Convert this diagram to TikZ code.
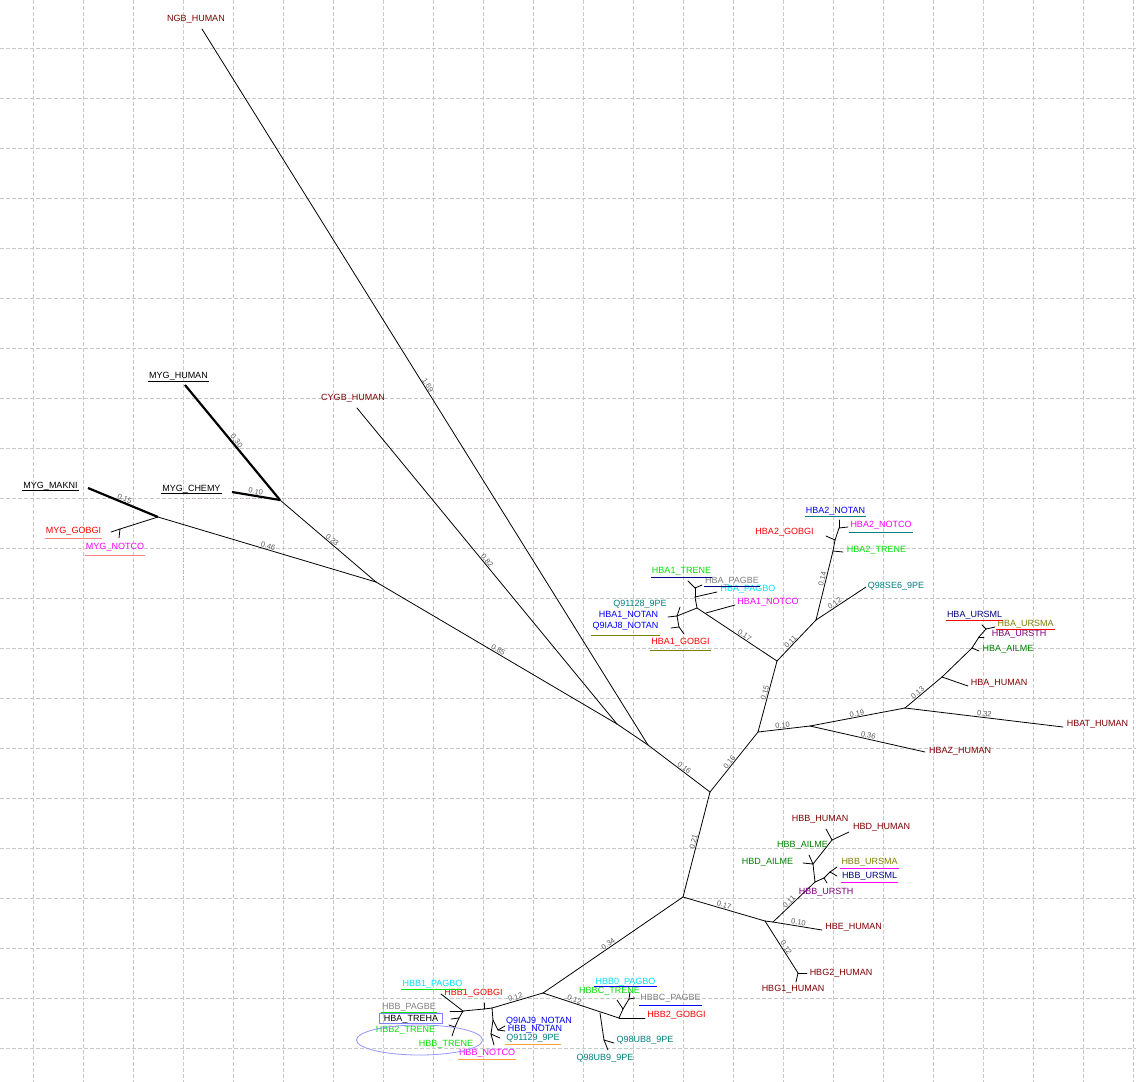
\documentclass[tikz,border=0pt]{standalone}
\usepackage{fontspec}
\setmainfont{Liberation Sans}
\definecolor{cDR}{RGB}{128,0,0}
\definecolor{cR}{RGB}{255,0,0}
\definecolor{cM}{RGB}{255,0,255}
\definecolor{cB}{RGB}{0,0,255}
\definecolor{cT}{RGB}{0,128,128}
\definecolor{cL}{RGB}{0,225,0}
\definecolor{cG}{RGB}{0,128,0}
\definecolor{cGr}{RGB}{128,128,128}
\definecolor{cC}{RGB}{0,225,255}
\definecolor{cN}{RGB}{0,0,128}
\definecolor{cO}{RGB}{128,128,0}
\definecolor{cP}{RGB}{128,0,128}
\definecolor{cSal}{RGB}{255,128,128}
\definecolor{cOr}{RGB}{255,160,64}
\definecolor{cBox}{RGB}{130,130,255}
\definecolor{cEll}{RGB}{150,150,255}
\definecolor{cGrid}{RGB}{200,200,200}
\definecolor{cSel}{RGB}{190,165,190}
\definecolor{cEl}{RGB}{90,90,90}
\newcommand{\ulx}[3]{\draw[ul,#2] ([yshift=#3pt]#1.south west) -- ([yshift=#3pt]#1.south east);}
\begin{document}
\begin{tikzpicture}[x=1pt,y=-1pt,
  lab/.style={font=\fontsize{9}{10}\selectfont, inner sep=1pt, text height=6.5pt, text depth=1.5pt},
  elab/.style={font=\fontsize{7.5}{8}\selectfont, text=cEl, sloped, above, inner sep=0.5pt},
  edge/.style={line width=0.8pt, line cap=round},
  medge/.style={line width=2.2pt},
  gridl/.style={cGrid, line width=0.9pt, dash pattern=on 4pt off 2pt},
  ul/.style={line width=0.9pt}]
\fill[white] (0,0) rectangle (1136,1082);
\useasboundingbox (0,0) rectangle (1136,1082);
% grid
\foreach \gx in {33,83,...,1133} \draw[gridl] (\gx,0) -- (\gx,1082);
\foreach \gy in {48,98,...,1048} \draw[gridl] (0,\gy) -- (1136,\gy);
\draw[cSel, line width=0.9pt, dash pattern=on 1pt off 2pt] (183,498) -- (565,498);
\draw[cSel, line width=0.9pt, dash pattern=on 1pt off 2pt] (183,498) -- (183,582);

% internal nodes
\coordinate (nM) at (376,582);
\coordinate (nMA) at (158,517);
\coordinate (nMB) at (280,500);
\coordinate (nMG) at (120,529);
\coordinate (nP1) at (617,724);
\coordinate (nP2) at (648,745);
\coordinate (nC) at (710,792);
\coordinate (nH) at (758,732);
\coordinate (nHA) at (777,661);
\coordinate (nHZ) at (810,726);
\coordinate (nHT) at (905,708);
\coordinate (nHT1) at (942,677);
\coordinate (nHT2) at (972,648);
\coordinate (nHT3) at (979,637);
\coordinate (nHT4) at (986,629);
\coordinate (nHA2) at (816,620);
\coordinate (nHA2c) at (833,551);
\coordinate (nHA2b) at (835,540);
\coordinate (nHA2a) at (839,528);
\coordinate (nHA1) at (697,608);
\coordinate (nHA1n) at (706,613);
\coordinate (nHA1a) at (695,597);
\coordinate (nHA1b) at (695,588);
\coordinate (nHA1c) at (677,616);
\coordinate (nHA1d) at (679,627);
\coordinate (nB) at (683,897);
\coordinate (nD1) at (765,921);
\coordinate (nD2) at (773,922);
\coordinate (nDB) at (815,882);
\coordinate (nDU1) at (824,878);
\coordinate (nDU2) at (830,872);
\coordinate (nDBc) at (813,864);
\coordinate (nDBd) at (832,840);
\coordinate (nG) at (798,973);
\coordinate (nL) at (543,993);
\coordinate (nLL) at (492,1008);
\coordinate (nLL1) at (484,1009);
\coordinate (nLL2) at (463,1011);
\coordinate (nLL3) at (459,1018);
\coordinate (nLL4) at (455,1027);
\coordinate (nLL5) at (493,1020);
\coordinate (nLL6) at (498,1030);
\coordinate (nLL7) at (491,1034);
\coordinate (nR) at (619,1018);
\coordinate (nR1) at (623,1009);
\coordinate (nR2) at (629,999);
\coordinate (nQ) at (600,1013);
\coordinate (nQ1) at (604,1040);

% leaf ends
\coordinate (eNGB) at (202,29);
\coordinate (eCYGB) at (357,408);
\coordinate (eMYGH) at (185,385);
\coordinate (eMYGC) at (232,492);
\coordinate (eMYGM) at (88,488);
\coordinate (eMYGG) at (111,532);
\coordinate (eMYGN) at (119,538);
\coordinate (eHBA2N) at (839,520);
\coordinate (eHBA2C) at (848,527);
\coordinate (eHBA2G) at (826,536);
\coordinate (eHBA2T) at (843,552);
\coordinate (eQ98SE6) at (866,587);
\coordinate (eHBA1C) at (735,605);
\coordinate (eHBAPGO) at (717,592);
\coordinate (eHBA1T) at (688,581);
\coordinate (eHBAPGE) at (702,585);
\coordinate (eQ91128) at (680,607);
\coordinate (eHBA1N) at (668,617);
\coordinate (eQ9IAJ8) at (671,628);
\coordinate (eHBA1G) at (684,634);
\coordinate (eHBAH) at (968,686);
\coordinate (eHBAAI) at (979,651);
\coordinate (eHBAUT) at (984,637);
\coordinate (eHBAUL) at (982,625);
\coordinate (eHBAUA) at (995,627);
\coordinate (eHBAT) at (1063,727);
\coordinate (eHBAZ) at (925,752);
\coordinate (eHBE) at (822,930);
\coordinate (eHBG2) at (807,973);
\coordinate (eHBG1) at (796,982);
\coordinate (eHBBUT) at (827,883);
\coordinate (eHBBUL) at (837,876);
\coordinate (eHBBUA) at (837,867);
\coordinate (eHBDAI) at (803,863);
\coordinate (eHBBAI) at (809,855);
\coordinate (eHBBH) at (826,829);
\coordinate (eHBDH) at (849,832);
\coordinate (eHBB1G) at (484,1003);
\coordinate (eHBB1PO) at (441,994);
\coordinate (eHBBPE) at (450,1011);
\coordinate (eTREHA) at (451,1019);
\coordinate (eHBB2T) at (449,1025);
\coordinate (eHBBT) at (452,1036);
\coordinate (eQ9IAJ9) at (505,1026);
\coordinate (eHBBNA) at (505,1031);
\coordinate (eQ91129) at (500,1038);
\coordinate (eHBBNC) at (494,1045);
\coordinate (eHBB2G) at (645,1018);
\coordinate (eHBBCT) at (617,1000);
\coordinate (eHBBCPE) at (635,998);
\coordinate (eHBB0PO) at (630,992);
\coordinate (eQ98UB8) at (614,1043);
\coordinate (eQ98UB9) at (608,1050);

% edges: long / backbone
\draw[edge] (nP2) -- node[elab,pos=0.5]{1.69} (eNGB);
\draw[edge] (nP1) -- node[elab,pos=0.51]{0.82} (eCYGB);
\draw[edge] (nM) -- node[elab,pos=0.5]{0.85} (nP1);
\draw[edge] (nP1) -- (nP2);
\draw[edge] (nP2) -- node[elab,pos=0.55]{0.16} (nC);
\draw[edge] (nM) -- node[elab,pos=0.5]{0.46} (nMA);
\draw[edge] (nM) -- node[elab,pos=0.48]{0.23} (nMB);
\draw[medge] (nMB) -- node[elab,pos=0.49]{0.30} (eMYGH);
\draw[medge] (nMB) -- node[elab,pos=0.52]{0.10} (eMYGC);
\draw[medge] (nMA) -- node[elab,pos=0.5]{0.15} (eMYGM);
\draw[edge] (nMA) -- (nMG);
\draw[edge] (nMG) -- (eMYGG);
\draw[edge] (nMG) -- (eMYGN);

% alpha side
\draw[edge] (nC) -- node[elab,pos=0.46]{0.16} (nH);
\draw[edge] (nH) -- node[elab,pos=0.54]{0.15} (nHA);
\draw[edge] (nH) -- node[elab,pos=0.48]{0.10} (nHZ);
\draw[edge] (nHZ) -- node[elab,pos=0.5]{0.19} (nHT);
\draw[edge] (nHZ) -- node[elab,pos=0.5]{0.36} (eHBAZ);
\draw[edge] (nHT) -- node[elab,pos=0.5]{0.32} (eHBAT);
\draw[edge] (nHT) -- node[elab,pos=0.4]{0.13} (nHT1);
\draw[edge] (nHT1) -- (eHBAH);
\draw[edge] (nHT1) -- (nHT2);
\draw[edge] (nHT2) -- (eHBAAI);
\draw[edge] (nHT2) -- (nHT3);
\draw[edge] (nHT3) -- (eHBAUT);
\draw[edge] (nHT3) -- (nHT4);
\draw[edge] (nHT4) -- (eHBAUL);
\draw[edge] (nHT4) -- (eHBAUA);
\draw[edge] (nHA) -- node[elab,pos=0.43]{0.17} (nHA1);
\draw[edge] (nHA) -- node[elab,pos=0.41]{0.11} (nHA2);
\draw[edge] (nHA2) -- node[elab,pos=0.58]{0.14} (nHA2c);
\draw[edge] (nHA2) -- node[elab,pos=0.41]{0.12} (eQ98SE6);
\draw[edge] (nHA2c) -- (nHA2b);
\draw[edge] (nHA2b) -- (nHA2a);
\draw[edge] (nHA2a) -- (eHBA2N);
\draw[edge] (nHA2a) -- (eHBA2C);
\draw[edge] (nHA2b) -- (eHBA2G);
\draw[edge] (nHA2c) -- (eHBA2T);
\draw[edge] (nHA1n) -- (eHBA1C);
\draw[edge] (nHA1) -- (nHA1a);
\draw[edge] (nHA1a) -- (eHBAPGO);
\draw[edge] (nHA1a) -- (nHA1b);
\draw[edge] (nHA1b) -- (eHBA1T);
\draw[edge] (nHA1b) -- (eHBAPGE);
\draw[edge] (nHA1) -- (nHA1c);
\draw[edge] (nHA1c) -- (eQ91128);
\draw[edge] (nHA1c) -- (eHBA1N);
\draw[edge] (nHA1c) -- (nHA1d);
\draw[edge] (nHA1d) -- (eQ9IAJ8);
\draw[edge] (nHA1d) -- (eHBA1G);

% beta side
\draw[edge] (nC) -- node[elab,pos=0.48]{0.21} (nB);
\draw[edge] (nB) -- node[elab,pos=0.49]{0.17} (nD1);
\draw[edge] (nD1) -- (nD2);
\draw[edge] (nD2) -- node[elab,pos=0.44]{0.11} (nDB);
\draw[edge] (nD2) -- node[elab,pos=0.51]{0.10} (eHBE);
\draw[edge] (nD1) -- node[elab,pos=0.55]{0.12} (nG);
\draw[edge] (nG) -- (eHBG2);
\draw[edge] (nG) -- (eHBG1);
\draw[edge] (nDB) -- (nDU1);
\draw[edge] (nDU1) -- (eHBBUT);
\draw[edge] (nDU1) -- (nDU2);
\draw[edge] (nDU2) -- (eHBBUL);
\draw[edge] (nDU2) -- (eHBBUA);
\draw[edge] (nDB) -- (nDBc);
\draw[edge] (nDBc) -- (eHBDAI);
\draw[edge] (nDBc) -- (eHBBAI);
\draw[edge] (nDBc) -- (nDBd);
\draw[edge] (nDBd) -- (eHBBH);
\draw[edge] (nDBd) -- (eHBDH);
\draw[edge] (nB) -- node[elab,pos=0.52]{0.34} (nL);
\draw[edge] (nL) -- node[elab,pos=0.52]{0.12} (nLL);
\draw[edge] (nL) -- node[elab,pos=0.4]{0.12} (nR);
\draw[edge] (nLL) -- (nLL1);
\draw[edge] (nLL1) -- (eHBB1G);
\draw[edge] (nLL1) -- (nLL2);
\draw[edge] (nLL2) -- (eHBB1PO);
\draw[edge] (nLL2) -- (eHBBPE);
\draw[edge] (nLL2) -- (nLL3);
\draw[edge] (nLL3) -- (eTREHA);
\draw[edge] (nLL3) -- (nLL4);
\draw[edge] (nLL4) -- (eHBB2T);
\draw[edge] (nLL4) -- (eHBBT);
\draw[edge] (nLL) -- (nLL5);
\draw[edge] (nLL5) -- (nLL6);
\draw[edge] (nLL6) -- (eQ9IAJ9);
\draw[edge] (nLL6) -- (eHBBNA);
\draw[edge] (nLL5) -- (nLL7);
\draw[edge] (nLL7) -- (eQ91129);
\draw[edge] (nLL7) -- (eHBBNC);
\draw[edge] (nR) -- (eHBB2G);
\draw[edge] (nR) -- (nR1);
\draw[edge] (nR1) -- (eHBBCT);
\draw[edge] (nR1) -- (nR2);
\draw[edge] (nR2) -- (eHBBCPE);
\draw[edge] (nR2) -- (eHBB0PO);
\draw[edge] (nQ) -- (nQ1);
\draw[edge] (nQ1) -- (eQ98UB8);
\draw[edge] (nQ1) -- (eQ98UB9);

% labels
\node[lab,text=cDR] (NGB) at (196,19) {NGB\_HUMAN};
\node[lab,text=cDR] (CYGB) at (353,398) {CYGB\_HUMAN};
\node[lab] (MYGH) at (178.5,376) {MYG\_HUMAN};
\node[lab] (MYGM) at (50.5,486) {MYG\_MAKNI};
\node[lab] (MYGC) at (191.5,489) {MYG\_CHEMY};
\node[lab,text=cR] (MYGG) at (73.5,531) {MYG\_GOBGI};
\node[lab,text=cM] (MYGN) at (115,547) {MYG\_NOTCO};
\node[lab,text=cB] (HBA2N) at (835.5,511) {HBA2\_NOTAN};
\node[lab,text=cM] (HBA2C) at (881,525) {HBA2\_NOTCO};
\node[lab,text=cR] (HBA2G) at (784.5,532) {HBA2\_GOBGI};
\node[lab,text=cL] (HBA2T) at (876.5,550) {HBA2\_TRENE};
\node[lab,text=cT] (Q98SE6) at (896,586) {Q98SE6\_9PE};
\node[lab,text=cL] (HBA1T) at (681.5,571) {HBA1\_TRENE};
\node[lab,text=cGr] (HBAPGE) at (732,581) {HBA\_PAGBE};
\node[lab,text=cC] (HBAPGO) at (748,589) {HBA\_PAGBO};
\node[lab,text=cM] (HBA1C) at (768,602) {HBA1\_NOTCO};
\node[lab,text=cT] (Q91128) at (640,604) {Q91128\_9PE};
\node[lab,text=cB] (HBA1N) at (628.5,615) {HBA1\_NOTAN};
\node[lab,text=cB] (Q9IAJ8) at (625.5,626) {Q9IAJ8\_NOTAN};
\node[lab,text=cR] (HBA1G) at (680.5,642) {HBA1\_GOBGI};
\node[lab,text=cN] (HBAUL) at (974.5,615) {HBA\_URSML};
\node[lab,text=cO] (HBAUA) at (1025.5,624) {HBA\_URSMA};
\node[lab,text=cP] (HBAUT) at (1019,634) {HBA\_URSTH};
\node[lab,text=cG] (HBAAI) at (1008,649) {HBA\_AILME};
\node[lab,text=cDR] (HBAH) at (999,683) {HBA\_HUMAN};
\node[lab,text=cDR] (HBAT) at (1097.5,724) {HBAT\_HUMAN};
\node[lab,text=cDR] (HBAZ) at (960,751) {HBAZ\_HUMAN};
\node[lab,text=cDR] (HBBH) at (820,819) {HBB\_HUMAN};
\node[lab,text=cDR] (HBDH) at (881.5,827) {HBD\_HUMAN};
\node[lab,text=cG] (HBBAI) at (802.5,845) {HBB\_AILME};
\node[lab,text=cG] (HBDAI) at (767.5,862) {HBD\_AILME};
\node[lab,text=cO] (HBBUA) at (869.5,862) {HBB\_URSMA};
\node[lab,text=cN] (HBBUL) at (869.5,876) {HBB\_URSML};
\node[lab,text=cP] (HBBUT) at (826,892) {HBB\_URSTH};
\node[lab,text=cDR] (HBE) at (853.5,927) {HBE\_HUMAN};
\node[lab,text=cDR] (HBG2) at (841,973) {HBG2\_HUMAN};
\node[lab,text=cDR] (HBG1) at (793,989) {HBG1\_HUMAN};
\node[lab,text=cC] (HBB1PO) at (432.5,984) {HBB1\_PAGBO};
\node[lab,text=cR] (HBB1G) at (473.5,993) {HBB1\_GOBGI};
\node[lab,text=cGr] (HBBPE) at (409,1007) {HBB\_PAGBE};
\node[lab,draw=cBox,line width=0.8pt,inner xsep=4.5pt,inner ysep=1.2pt] (TREHA) at (411,1018.5) {HBA\_TREHA};
\node[lab,text=cL] (HBB2T) at (405.5,1030) {HBB2\_TRENE};
\node[lab,text=cL] (HBBT) at (446,1044) {HBB\_TRENE};
\node[lab,text=cM] (HBBNC) at (487,1053) {HBB\_NOTCO};
\node[lab,text=cB] (Q9IAJ9) at (539,1021) {Q9IAJ9\_NOTAN};
\node[lab,text=cB] (HBBNA) at (535,1029) {HBB\_NOTAN};
\node[lab,text=cT] (Q91129) at (533,1038) {Q91129\_9PE};
\node[lab,text=cC] (HBB0PO) at (625.5,982) {HBB0\_PAGBO};
\node[lab,text=cL] (HBBCT) at (609.5,991) {HBBC\_TRENE};
\node[lab,text=cGr] (HBBCPE) at (670.5,998) {HBBC\_PAGBE};
\node[lab,text=cR] (HBB2G) at (676.5,1015) {HBB2\_GOBGI};
\node[lab,text=cT] (Q98UB8) at (645,1040) {Q98UB8\_9PE};
\node[lab,text=cT] (Q98UB9) at (605,1058) {Q98UB9\_9PE};

% underlines
\ulx{MYGH}{black}{0}
\ulx{MYGM}{black}{1}
\ulx{MYGC}{black}{1}
\ulx{MYGG}{cSal}{-2}
\ulx{MYGN}{cSal}{-3}
\ulx{HBA2N}{cT}{0}
\ulx{HBA2C}{cT}{-2}
\ulx{HBA1T}{cN}{-1}
\ulx{HBAPGE}{cN}{0}
\ulx{Q9IAJ8}{cO}{-4}
\ulx{HBA1G}{cO}{-3}
\ulx{HBAUL}{cR}{0}
\ulx{HBAUA}{cR}{0}
\ulx{HBBUA}{cM}{-1}
\ulx{HBBUL}{cM}{-1}
\ulx{HBB0PO}{cB}{1}
\ulx{HBBCPE}{cB}{-2}
\ulx{HBB1PO}{cL}{0}
\ulx{HBBPE}{cL}{0}
\ulx{HBBNC}{cOr}{-1}
\ulx{Q91129}{cOr}{-1}

% selection ellipse
\draw[cEll, line width=0.8pt] (419.5,1040) ellipse [x radius=63pt, y radius=15pt];
\end{tikzpicture}
\end{document}
